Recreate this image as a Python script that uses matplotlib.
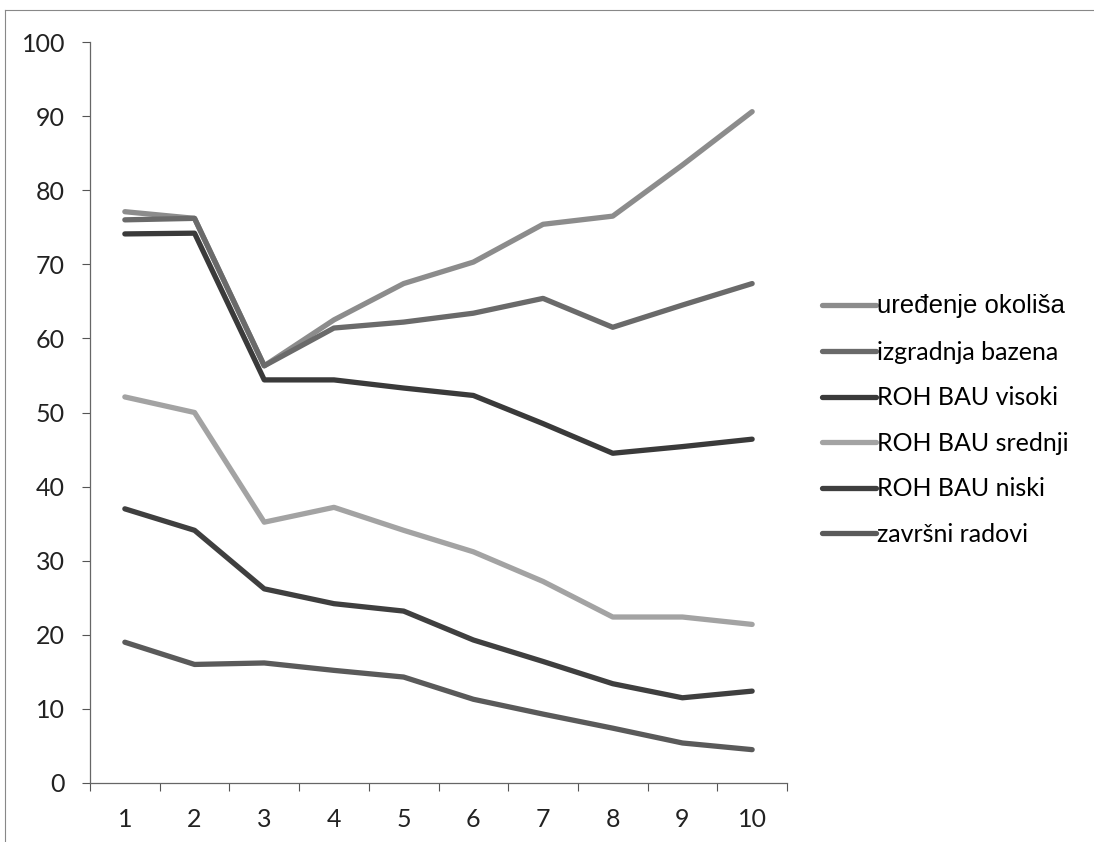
import matplotlib
matplotlib.use("Agg")
import matplotlib.pyplot as plt
from matplotlib.lines import Line2D

categories = [1, 2, 3, 4, 5, 6, 7, 8, 9, 10]
series_names = ["uređenje okoliša", "izgradnja bazena", "ROH BAU visoki",
                "ROH BAU srednji", "ROH BAU niski", "završni radovi"]
uredjenje_okolisa = [77.1, 76.2, 56.3, 62.5, 67.4, 70.3, 75.4, 76.5, 83.4, 90.6]
izgradnja_bazena = [76.0, 76.2, 56.3, 61.4, 62.2, 63.4, 65.4, 61.5, 64.5, 67.4]
roh_bau_visoki = [74.1, 74.2, 54.4, 54.4, 53.3, 52.3, 48.5, 44.5, 45.4, 46.4]
roh_bau_srednji = [52.1, 50.0, 35.2, 37.2, 34.1, 31.2, 27.2, 22.4, 22.4, 21.4]
roh_bau_niski = [37.0, 34.1, 26.2, 24.2, 23.2, 19.3, 16.4, 13.4, 11.5, 12.4]
zavrsni_radovi = [19.0, 16.0, 16.2, 15.2, 14.3, 11.3, 9.3, 7.4, 5.4, 4.5]
y_ticks = [0, 10, 20, 30, 40, 50, 60, 70, 80, 90, 100]

all_series = [uredjenje_okolisa, izgradnja_bazena, roh_bau_visoki,
              roh_bau_srednji, roh_bau_niski, zavrsni_radovi]
colors = ["#8c8c8c", "#6a6a6a", "#3a3a3a", "#a3a3a3", "#3f3f3f", "#5a5a5a"]

plt.rcParams['font.family'] = ['Lato', 'DejaVu Sans']

fig = plt.figure(figsize=(10.94, 8.42), dpi=100)
ax = fig.add_axes([90/1094, 1-783/842, (787-90)/1094, (783-42)/842])

for name, vals, c in zip(series_names, all_series, colors):
    ax.plot(categories, vals, color=c, lw=3.8, label=name,
            solid_capstyle='round', solid_joinstyle='round')

ax.set_xlim(0.5, 10.5)
ax.set_ylim(0, 100)
ax.set_yticks(y_ticks)
ax.set_yticklabels([str(t) for t in y_ticks], fontsize=18, color='#222222')
ax.set_xticks([c for c in categories])
ax.set_xticklabels([str(c) for c in categories], fontsize=18, color='#222222')
ax.set_xticks([c - 0.5 for c in categories] + [10.5], minor=True)
ax.tick_params(axis='x', which='major', length=0, pad=18)
ax.tick_params(axis='x', which='minor', length=6, width=0.8, color='#555555', direction='out')
ax.tick_params(axis='y', which='major', length=6, width=0.8, color='#555555', pad=12)
for s in ['top', 'right']:
    ax.spines[s].set_visible(False)
for s in ['left', 'bottom']:
    ax.spines[s].set_color('#666666')
    ax.spines[s].set_linewidth(0.9)

leg = ax.legend(loc='center left', bbox_to_anchor=(822/1094, 1-420/842),
                bbox_transform=fig.transFigure, frameon=False, fontsize=18,
                handlelength=2.16, handletextpad=0.05, labelspacing=0.9,
                borderpad=0, borderaxespad=0)
leg.get_texts()[0].set_family(['Liberation Sans', 'DejaVu Sans'])
leg.get_texts()[0].set_fontsize(18.5)

# scanned figure border
fig.add_artist(Line2D([5/1094, 5/1094], [0, 1-10/842], transform=fig.transFigure,
                      color='#888888', lw=0.8))
fig.add_artist(Line2D([5/1094, 1], [1-10/842, 1-10/842], transform=fig.transFigure,
                      color='#888888', lw=0.8))

fig.savefig("out.png", dpi=100)
